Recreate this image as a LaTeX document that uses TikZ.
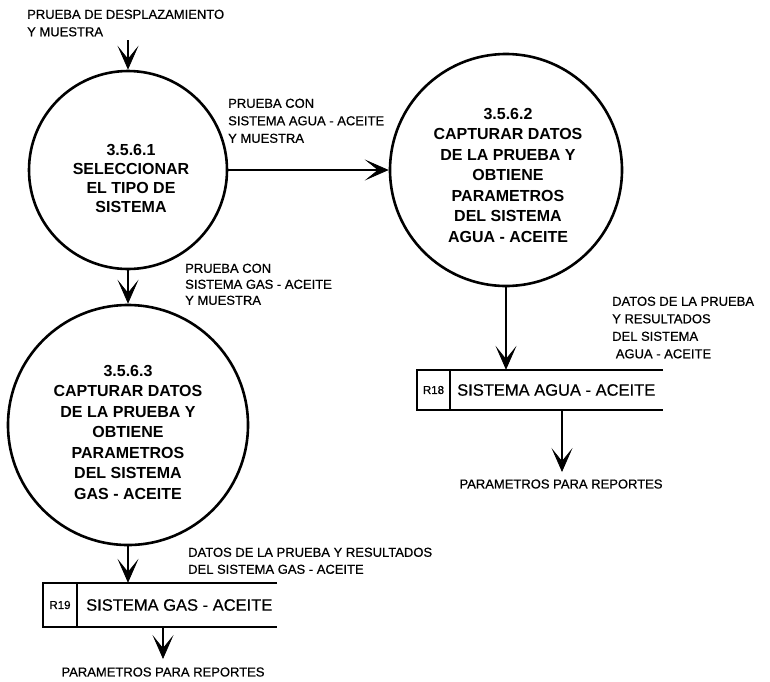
\documentclass[tikz,border=0pt]{standalone}
\usepackage{fontspec}
\setmainfont{Liberation Sans}
\newfontfamily\lblfont[FakeBold=0.6]{Liberation Sans}
\usetikzlibrary{arrows.meta}
\tikzset{
  proc/.style={circle, draw, line width=2.6pt, inner sep=0pt},
  ptext/.style={font=\fontsize{16}{20.5}\selectfont\bfseries, align=center, inner sep=0pt},
  lbl/.style={font=\lblfont\fontsize{13}{17.5}\selectfont, align=left, inner sep=0pt, anchor=north west},
  lblc/.style={font=\lblfont\fontsize{13}{17.5}\selectfont, inner sep=0pt},
  flow/.style={line width=2.4pt, -{Stealth[length=24pt,width=21pt,inset=13pt,line width=0.8pt]}},
  storeline/.style={line width=2.4pt},
  storeframe/.style={draw=none, inner sep=0pt},
  storeid/.style={font=\lblfont\fontsize{11.5}{12}\selectfont, inner sep=0pt},
  storetext/.style={font=\lblfont\fontsize{16.5}{18}\selectfont, inner sep=0pt, anchor=west}
}
\begin{document}
\begin{tikzpicture}[x=1pt,y=-1pt]
\useasboundingbox (0,0) rectangle (770,681);

% processes
\node[proc, minimum size=198pt] (c1) at (128,170) {};
\node[ptext, font=\fontsize{16}{19}\selectfont\bfseries] (t1) at (131,178) {3.5.6.1\\SELECCIONAR\\EL TIPO DE\\SISTEMA};
\node[proc, minimum size=232pt] (c2) at (506,170) {};
\node[ptext] (t2) at (508,175) {3.5.6.2\\CAPTURAR DATOS\\DE LA PRUEBA Y\\OBTIENE\\PARAMETROS\\DEL SISTEMA\\AGUA - ACEITE};
\node[proc, minimum size=240pt] (c3) at (128,425) {};
\node[ptext] (t3) at (128,432) {3.5.6.3\\CAPTURAR DATOS\\DE LA PRUEBA Y\\OBTIENE\\PARAMETROS\\DEL SISTEMA\\GAS - ACEITE};

% data stores
\node[storeframe, minimum width=246pt, minimum height=40pt] (s18) at (540,390) {};
\draw[storeline] (s18.north east) -- (s18.north west) -- (s18.south west) -- (s18.south east);
\coordinate (d18) at (450,390);
\draw[storeline] (d18 |- s18.north) -- (d18 |- s18.south);
\node[storeid] (s18id) at (433.5,390) {R18};
\node[storetext] (s18t) at (457,390) {SISTEMA AGUA - ACEITE};

\node[storeframe, minimum width=234pt, minimum height=44pt] (s19) at (160,605) {};
\draw[storeline] (s19.north east) -- (s19.north west) -- (s19.south west) -- (s19.south east);
\coordinate (d19) at (77,605);
\draw[storeline] (d19 |- s19.north) -- (d19 |- s19.south);
\node[storeid] (s19id) at (60,605) {R19};
\node[storetext] (s19t) at (86,605) {SISTEMA GAS - ACEITE};

% flows
\coordinate (in) at (128,40);
\draw[flow] (in) -- (c1.north);
\draw[flow] (c1.east) -- (c2.west);
\draw[flow] (c1.south) -- (c3.north);
\draw[flow] (c2.south) -- (c2.south |- s18.north);
\draw[flow] (c3.south) -- (c3.south |- s19.north);
\coordinate (o18) at (562,472);
\draw[flow] (o18 |- s18.south) -- (o18);
\coordinate (o19) at (163,659);
\draw[flow] (o19 |- s19.south) -- (o19);

% labels
\node[lbl] (l0) at (27,9.5) {PRUEBA DE DESPLAZAMIENTO\\Y MUESTRA};
\node[lbl] (l1) at (228,98.5) {PRUEBA CON\\SISTEMA AGUA - ACEITE\\Y MUESTRA};
\node[lbl, font=\lblfont\fontsize{13}{16}\selectfont] (l2) at (185,263.5) {PRUEBA CON\\SISTEMA GAS - ACEITE\\Y MUESTRA};
\node[lbl] (l3) at (612,296.5) {DATOS DE LA PRUEBA\\Y RESULTADOS\\DEL SISTEMA\\\ AGUA - ACEITE};
\node[lbl, font=\lblfont\fontsize{13}{17}\selectfont] (l4) at (188,547.5) {DATOS DE LA PRUEBA Y RESULTADOS\\DEL SISTEMA GAS - ACEITE};
\node[lblc] (p18) at (561,484) {PARAMETROS PARA REPORTES};
\node[lblc] (p19) at (163,672) {PARAMETROS PARA REPORTES};
\end{tikzpicture}
\end{document}
